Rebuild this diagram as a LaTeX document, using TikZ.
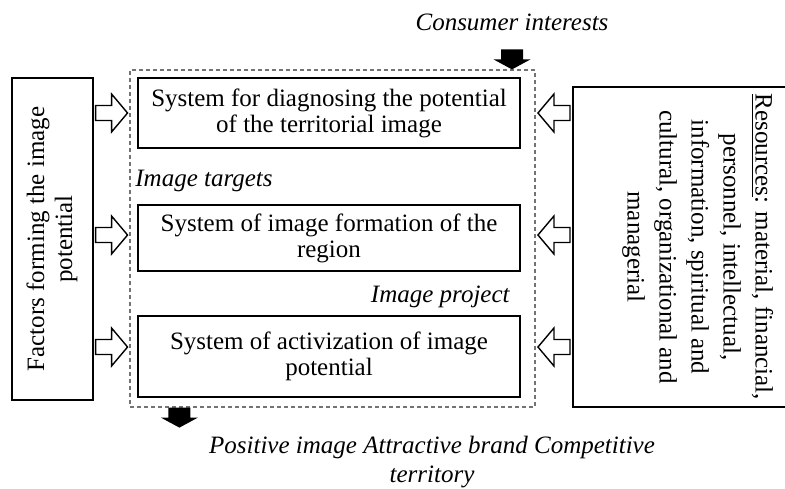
\documentclass[tikz,border=0pt]{standalone}
\usepackage{fontspec}
\setmainfont{Liberation Serif}
\usepackage{graphicx}
\usetikzlibrary{calc}

\tikzset{
	sysbox/.style={draw=black,line width=0.7pt,fill=white,inner sep=0pt,minimum width=191pt,align=center,font=\fontsize{12.5}{13}\selectfont},
	sidebox/.style={draw=black,line width=0.7pt,fill=white,inner sep=0pt},
	note/.style={inner sep=0pt,font=\fontsize{12.5}{14.5}\selectfont\itshape},
	pics/hollowarrow/.style={code={\path[draw=black,line width=0.7pt,fill=white] (-16,-7.5) -- (0,-7.5) -- (0,-19) -- (16,0) -- (0,19) -- (0,7.5) -- (-16,7.5) -- cycle;}},
	pics/solidarrow/.style={code={\path[fill=black] (-11,-20) -- (11,-20) -- (11,-10) -- (18.5,-10) -- (0,0) -- (-18.5,-10) -- (-11,-10) -- cycle;}},
}

\begin{document}
\begin{tikzpicture}[x=0.5pt,y=-0.5pt]
		\useasboundingbox (0,0) rectangle (785,488);
		\node[draw=black!55,dash pattern=on 2pt off 1.5pt,line width=0.6pt,minimum width=202.5pt,minimum height=168.5pt,inner sep=0pt] (frame) at (332.5,238.5) {};
		
		\node[sysbox,minimum height=35pt] (diag) at (329,113) {System for diagnosing the potential\\of the territorial image};
		\node[sysbox,minimum height=33pt] (form) at (329,238) {System of image formation of the\\region};
		\node[sysbox,minimum height=40.5pt] (activ) at (329,356.5) {System of activization of image\\potential};
		
		\node[sidebox,minimum width=40.5pt,minimum height=161pt,font=\fontsize{12.5}{14}\selectfont] (factors) at (52.5,239) {\rotatebox{90}{\begin{tabular}{@{}c@{}}Factors forming the image\\potential\end{tabular}}};
		\node[sidebox,minimum width=125pt,minimum height=160pt,font=\fontsize{12.5}{16}\selectfont] (resources) at (698,247) {\rotatebox{-90}{\begin{tabular}{@{}c@{}}\underline{Resources}: material, financial,\\personnel, intellectual,\\information, spiritual and\\cultural, organizational and\\managerial\end{tabular}}};
		
		\node[note] (consumer) at (512,22) {Consumer interests};
		\node[note,anchor=base west] (targets) at (135,186) {Image targets};
		\node[note,anchor=base east] (project) at (510,302) {Image project};
		\node[note,align=center] (outcome) at (432,462) {Positive image Attractive brand Competitive\\territory};
		
		\path (factors.east |- 0,113) -- (frame.west |- 0,113) pic[pos=0.5]{hollowarrow};
		\path (factors.east |- 0,235) -- (frame.west |- 0,235) pic[pos=0.5]{hollowarrow};
		\path (factors.east |- 0,347) -- (frame.west |- 0,347) pic[pos=0.5]{hollowarrow};
		\path (resources.west |- 0,113) -- (frame.east |- 0,113) pic[pos=0.5,rotate=180]{hollowarrow};
		\path (resources.west |- 0,235) -- (frame.east |- 0,235) pic[pos=0.5,rotate=180]{hollowarrow};
		\path (resources.west |- 0,347) -- (frame.east |- 0,347) pic[pos=0.5,rotate=180]{hollowarrow};
		
		\path (consumer.south) -- (consumer.south |- frame.north) pic[pos=1]{solidarrow};
		\path ($(frame.south west)+(50,0)$) -- ++(0,20) pic[pos=1]{solidarrow};
	\end{tikzpicture}
\end{document}
